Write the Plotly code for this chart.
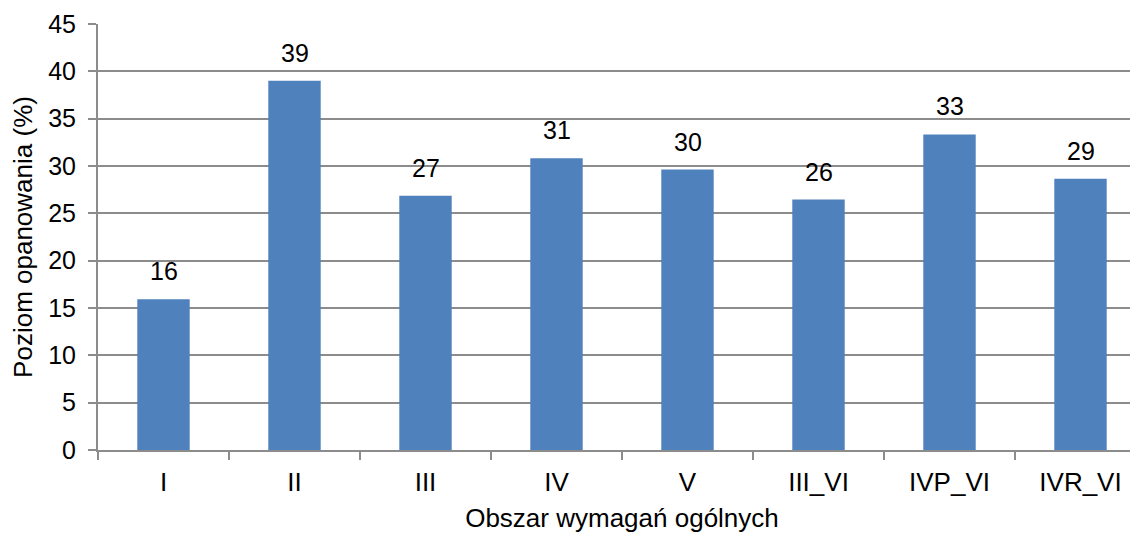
import plotly.graph_objects as go

categories = ["I", "II", "III", "IV", "V", "III_VI", "IVP_VI", "IVR_VI"]
values = [15.93, 39.0, 26.85, 30.83, 29.63, 26.46, 33.33, 28.65]
labels = [f"{round(v):d}" for v in values]
y_ticks = list(range(0, 50, 5))

FONT = "Liberation Sans, Arial, sans-serif"
GRID = "#8c8c8c"
FS = 26

fig = go.Figure(go.Bar(
    x=categories, y=values,
    marker=dict(color="#4F81BD", line=dict(width=0)),
    width=0.4,
))

for c, v, t in zip(categories, values, labels):
    fig.add_annotation(
        x=c, y=v, text=t, showarrow=False,
        xref="x", yref="y", yanchor="bottom", yshift=12,
        font=dict(family=FONT, size=25, color="#000000"),
    )

fig.update_layout(
    width=1138, height=534,
    margin=dict(l=90, r=0, t=16, b=92),
    paper_bgcolor="white", plot_bgcolor="white",
    font=dict(family=FONT, size=FS, color="#000000"),
    showlegend=False,
)
fig.update_xaxes(
    showline=True, linecolor=GRID, linewidth=2,
    ticks="outside", tickson="boundaries", ticklen=8, tickcolor=GRID, tickwidth=2,
    ticklabelstandoff=8,
    showgrid=False,
    title=dict(text="Obszar wymagań ogólnych", standoff=13,
               font=dict(family=FONT, size=FS)),
)
fig.update_yaxes(
    range=[0, 45], tickvals=y_ticks,
    showline=True, linecolor=GRID, linewidth=2,
    ticks="outside", ticklen=8, tickcolor=GRID, tickwidth=2,
    tickfont=dict(size=25),
    ticklabelstandoff=7,
    showgrid=True, gridcolor=GRID, gridwidth=1.5,
    zeroline=False,
    title=dict(text="Poziom opanowania (%)", standoff=8,
               font=dict(family=FONT, size=FS)),
)

fig.write_html("out.html")
